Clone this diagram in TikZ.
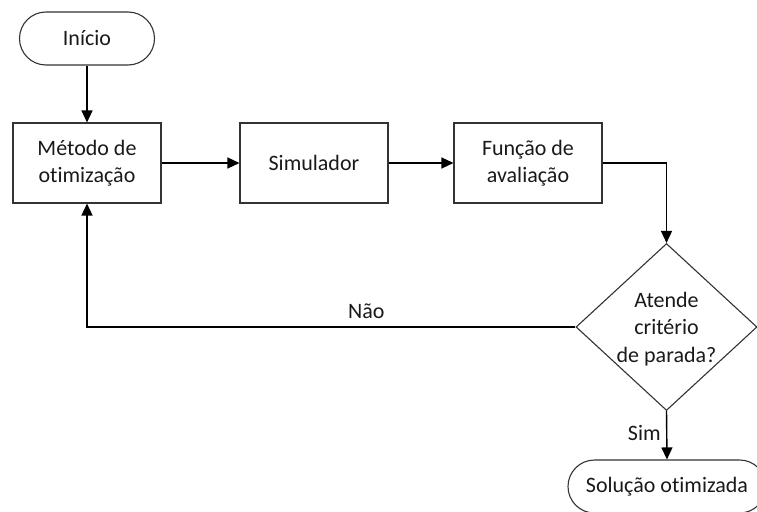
\documentclass[tikz,border=0pt]{standalone}
\usepackage{fontspec}
\setmainfont{Carlito}[Ligatures={NoCommon,NoContextual}]
\usetikzlibrary{shapes.geometric,arrows.meta}
\begin{document}
\begin{tikzpicture}[x=1pt,y=-1pt,
  every node/.style={font=\fontsize{22}{27.5}\selectfont, text=black!90},
  procbox/.style={draw=black!80, line width=1.1pt, minimum width=148pt, minimum height=80pt, align=center, inner sep=0pt},
  termbox/.style={draw=black!80, line width=1.1pt, rounded corners=26.5pt, minimum height=53pt, inner sep=0pt},
  decbox/.style={draw=black!80, line width=1.1pt, shape=diamond, minimum width=181pt, minimum height=167pt, inner sep=0pt},
  flow/.style={draw=black, line width=1.4pt, -{Triangle[length=12pt,width=11pt]}}
]
\useasboundingbox (0,0) rectangle (757,511);

\node[termbox, minimum width=135pt] (inicio) at (87,38.5) {Início};
\node[procbox] (metodo) at (87,163) {Método de\\otimização};
\node[procbox] (simul) at (314,163) {Simulador};
\node[procbox] (funcao) at (528,163) {Função de\\avaliação};
\node[decbox] (decisao) at (666.5,327) {};
\node[align=center] (pergunta) at (666.5,329) {Atende\\critério\\de parada?};
\node[termbox, minimum width=198pt] (solucao) at (667,486.5) {Solução otimizada};

\draw[flow] (inicio) -- (metodo);
\draw[flow] (metodo) -- (simul);
\draw[flow] (simul) -- (funcao);
\draw[flow] (funcao.east) -| (decisao.north);
\draw[flow] (decisao.west) -| node[pos=0.214, above=4pt] (nao) {Não} (metodo.south);
\draw[flow] (decisao.south) -- node[pos=0.45, left=2pt] (simlabel) {Sim} (solucao.north);
\end{tikzpicture}
\end{document}
